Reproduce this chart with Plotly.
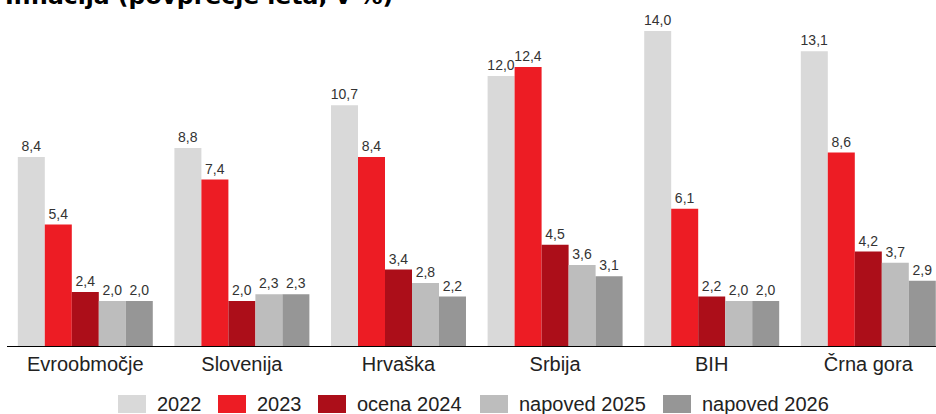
import plotly.graph_objects as go

categories = ["Evroobmočje", "Slovenija", "Hrvaška", "Srbija", "BIH", "Črna gora"]
series_names = ["2022", "2023", "ocena 2024", "napoved 2025", "napoved 2026"]
v2022 = [8.4, 8.8, 10.7, 12.0, 14.0, 13.1]
v2023 = [5.4, 7.4, 8.4, 12.4, 6.1, 8.6]
v2024 = [2.4, 2.0, 3.4, 4.5, 2.2, 4.2]
v2025 = [2.0, 2.3, 2.8, 3.6, 2.0, 3.7]
v2026 = [2.0, 2.3, 2.2, 3.1, 2.0, 2.9]
series_values = [v2022, v2023, v2024, v2025, v2026]
colors = ["#d9d9d9", "#ed1c24", "#ac0e19", "#bdbdbd", "#969696"]
title_text = "Inflacija (povprečje leta, v %)"

W, H = 936, 414
ML, MR, MT, MB = 7, 0, 20, 68
PW = W - ML - MR
PH = H - MT - MB

# legend layout (pixel positions of swatch left edges)
legend_swatch_x = [118, 218, 318, 480, 663]

def px_x(p):
    return (p - ML) / PW

def px_y(p):
    return (H - MB - p) / PH

def fmt(v):
    return f"{v:.1f}".replace(".", ",")

fig = go.Figure()
for name, vals, col in zip(series_names, series_values, colors):
    fig.add_trace(go.Bar(
        x=categories, y=vals, name=name,
        marker=dict(color=col, line=dict(width=0)),
        text=[fmt(v) for v in vals], textposition="outside",
        constraintext="none", cliponaxis=False,
        textfont=dict(family="Liberation Sans, Arial, sans-serif", size=14, color="#333333"),
        showlegend=False,
    ))

shapes = []
annotations = []
for name, col, sx in zip(series_names, colors, legend_swatch_x):
    shapes.append(dict(type="rect", xref="paper", yref="paper",
                       x0=px_x(sx), x1=px_x(sx + 28), y0=px_y(413), y1=px_y(395),
                       fillcolor=col, line=dict(width=0)))
    annotations.append(dict(text=name, xref="paper", yref="paper",
                            x=px_x(sx + 37), xanchor="left", y=px_y(404), yanchor="middle",
                            showarrow=False,
                            font=dict(family="Liberation Sans, Arial, sans-serif", size=20, color="#222222")))

annotations.append(dict(text="<b>" + title_text + "</b>", xref="paper", yref="paper",
                        x=px_x(395), xanchor="right", y=px_y(12.5), yanchor="bottom",
                        showarrow=False,
                        font=dict(family="DejaVu Sans, Verdana, sans-serif", size=23.5, color="#000000")))

fig.update_layout(
    width=W, height=H,
    margin=dict(l=ML, r=MR, t=MT, b=MB, autoexpand=False),
    paper_bgcolor="white", plot_bgcolor="white",
    barmode="group", bargap=0.138, bargroupgap=0,
    showlegend=False,
    xaxis=dict(range=[-0.5, -0.5 + PW / 156.6], showline=True, linecolor="#000000", linewidth=1,
               ticks="", showgrid=False, zeroline=False, automargin=False,
               tickfont=dict(family="Liberation Sans, Arial, sans-serif", size=20, color="#222222")),
    yaxis=dict(range=[0, PH / 22.5], visible=False, showgrid=False, zeroline=False),
    shapes=shapes,
    annotations=annotations,
)

fig.write_html("out.html", config={"displayModeBar": False},
               post_script="document.body.style.margin='0';")
